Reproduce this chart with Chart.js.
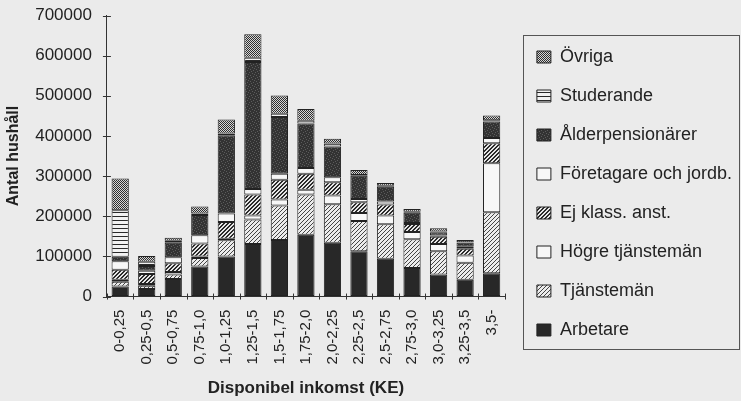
<!DOCTYPE html>
<html>
<head>
<meta charset="utf-8">
<script src="https://cdn.jsdelivr.net/npm/chart.js@4/dist/chart.umd.min.js"></script>
<style>
  html, body { margin: 0; padding: 0; background: #ebebeb; }
  #wrap { width: 741px; height: 401px; }
</style>
</head>
<body>
<div id="wrap"><canvas id="myChart" width="741" height="401"></canvas></div>
<script>
const categories = ['0-0,25', '0,25-0,5', '0,5-0,75', '0,75-1,0', '1,0-1,25', '1,25-1,5', '1,5-1,75',
  '1,75-2,0', '2,0-2,25', '2,25-2,5', '2,5-2,75', '2,75-3,0', '3,0-3,25', '3,25-3,5', '3,5-'];

// stacked bottom to top
const arbetare = [25000, 19000, 44000, 75000, 100000, 131000, 141000, 154000, 134000, 113000, 94000, 71000, 55000, 42000, 58000];
const tjansteman = [12000, 8000, 11000, 21000, 40000, 61000, 86000, 100000, 96000, 75000, 86000, 72000, 58000, 42000, 152000];
const hogreTjansteman = [5000, 4000, 6000, 4000, 4000, 10000, 15000, 12000, 22000, 20000, 22000, 18000, 18000, 18000, 122000];
const ejKlass = [25000, 25000, 22000, 32000, 42000, 52000, 49000, 40000, 33000, 27000, 27000, 20000, 18000, 17000, 50000];
const foretagare = [21000, 8000, 15000, 21000, 21000, 14000, 15000, 14000, 12000, 8000, 7500, 2500, 3000, 5000, 13000];
const alderpens = [11000, 12000, 36000, 50000, 195000, 316000, 141000, 111000, 77000, 58000, 37000, 25000, 8000, 10000, 41000];
const studerande = [116000, 11000, 5000, 4000, 4000, 11000, 8000, 7000, 7000, 2000, 2500, 2500, 2000, 1000, 3000];
const ovriga = [79000, 14000, 7500, 17000, 35000, 58000, 46000, 29000, 12000, 12000, 7000, 7000, 8000, 6000, 12000];

const yTicks = [0, 100000, 200000, 300000, 400000, 500000, 600000, 700000];

const FONT = '"Liberation Sans", Arial, Helvetica, sans-serif';
const INK = '#222222';

function makePattern(size, draw) {
  const c = document.createElement('canvas');
  c.width = size; c.height = size;
  const g = c.getContext('2d');
  draw(g, size);
  return g.createPattern(c, 'repeat');
}

const fills = {
  arbetare: '#282828',
  tjansteman: makePattern(4, (g, s) => {
    g.fillStyle = '#ececec'; g.fillRect(0, 0, s, s);
    g.fillStyle = '#444444';
    for (let i = 0; i < s; i++) g.fillRect(i, s - 1 - i, 1, 1);
  }),
  hogre: '#f7f7f7',
  ejKlass: makePattern(4, (g, s) => {
    g.fillStyle = '#e6e6e6'; g.fillRect(0, 0, s, s);
    g.fillStyle = '#2a2a2a';
    for (let i = 0; i < s; i++) { g.fillRect(i, s - 1 - i, 1, 1); g.fillRect(i, (2 * s - 2 - i) % s, 1, 1); }
  }),
  foretagare: '#f7f7f7',
  alderpens: makePattern(6, (g, s) => {
    g.fillStyle = '#333333'; g.fillRect(0, 0, s, s);
    g.fillStyle = '#5c5c5c';
    [[0, 1], [3, 0], [4, 3], [1, 4], [5, 5], [2, 2]].forEach(([a, b]) => g.fillRect(a, b, 1, 1));
  }),
  studerande: makePattern(4, (g, s) => {
    g.fillStyle = '#f2f2f2'; g.fillRect(0, 0, s, s);
    g.fillStyle = '#2a2a2a'; g.fillRect(0, 0, s, 1);
  }),
  ovriga: makePattern(2, (g, s) => {
    g.fillStyle = '#d6d6d6'; g.fillRect(0, 0, s, s);
    g.fillStyle = '#2e2e2e'; g.fillRect(0, 0, 1, 1); g.fillRect(1, 1, 1, 1);
  })
};

function series(label, data, fill) {
  return {
    label: label,
    data: data,
    backgroundColor: fill,
    borderColor: INK,
    borderWidth: 1,
    borderSkipped: false
  };
}

// nudge the legend a bit to the right without touching the plot area
const legendShift = {
  id: 'legendShift',
  afterLayout(chart) {
    chart.legend.left += 11;
    chart.legend.right += 11;
  }
};

const frame = {
  id: 'frame',
  afterDraw(chart) {
    const { ctx, scales: { x, y }, legend } = chart;
    ctx.save();
    ctx.strokeStyle = '#333';
    ctx.lineWidth = 1;
    ctx.beginPath();
    yTicks.forEach(v => {
      const py = Math.round(y.getPixelForValue(v)) + 0.5;
      ctx.moveTo(x.left - 4, py);
      ctx.lineTo(x.left + 4, py);
    });
    for (let i = 0; i <= categories.length; i++) {
      const px = Math.round(x.getPixelForValue(i - 0.5)) + 0.5;
      ctx.moveTo(px, y.bottom + 3);
      ctx.lineTo(px, y.bottom - 3);
    }
    ctx.stroke();

    const boxes = legend.legendHitBoxes;
    if (boxes && boxes.length) {
      const first = boxes[0];
      const last = boxes[boxes.length - 1];
      const left = Math.round(first.left - 14) + 0.5;
      const top = Math.round(first.top - 13) + 0.5;
      const bottom = Math.round(last.top + last.height + 10) + 0.5;
      ctx.strokeStyle = '#555';
      ctx.strokeRect(left, top, chart.width - 1.5 - left, bottom - top);
    }
    ctx.restore();
  }
};

new Chart('myChart', {
  type: 'bar',
  data: {
    labels: categories,
    datasets: [
      series('Arbetare', arbetare, fills.arbetare),
      series('Tjänstemän', tjansteman, fills.tjansteman),
      series('Högre tjänstemän', hogreTjansteman, fills.hogre),
      series('Ej klass. anst.', ejKlass, fills.ejKlass),
      series('Företagare och jordb.', foretagare, fills.foretagare),
      series('Ålderpensionärer', alderpens, fills.alderpens),
      series('Studerande', studerande, fills.studerande),
      series('Övriga', ovriga, fills.ovriga)
    ]
  },
  options: {
    responsive: false,
    animation: false,
    layout: { padding: { left: 4, top: 4, right: 10, bottom: 2 } },
    datasets: {
      bar: { categoryPercentage: 1, barPercentage: 0.65 }
    },
    plugins: {
      tooltip: { enabled: false },
      legend: {
        position: 'right',
        align: 'start',
        reverse: true,
        maxWidth: 280,
        // empty title used only as top spacing
        title: { display: true, text: '', padding: { top: 5.5, bottom: 5.5 }, font: { size: 10 } },
        labels: {
          color: INK,
          boxWidth: 14,
          boxHeight: 12,
          padding: 21,
          font: { family: FONT, size: 18 }
        }
      }
    },
    scales: {
      x: {
        stacked: true,
        border: { color: '#333', width: 1 },
        grid: { drawOnChartArea: false, tickLength: 4, tickColor: 'rgba(0,0,0,0)', offset: true },
        ticks: {
          color: INK,
          minRotation: 90,
          maxRotation: 90,
          autoSkip: false,
          padding: 9,
          font: { family: FONT, size: 15 }
        },
        title: {
          display: true,
          text: 'Disponibel inkomst (KE)',
          color: INK,
          padding: { top: 5, bottom: 0 },
          font: { family: FONT, size: 17, weight: 'bold' }
        }
      },
      y: {
        stacked: true,
        min: 0,
        max: 700000,
        border: { color: '#333', width: 1 },
        grid: { drawOnChartArea: false, tickLength: 8, tickColor: 'rgba(0,0,0,0)' },
        ticks: {
          stepSize: 100000,
          color: INK,
          padding: 7,
          font: { family: FONT, size: 17, lineHeight: 1 },
          callback: v => String(v)
        },
        title: {
          display: true,
          text: 'Antal hushåll',
          color: INK,
          padding: { top: 0, bottom: 5 },
          font: { family: FONT, size: 16, weight: 'bold' }
        }
      }
    }
  },
  plugins: [legendShift, frame]
});
</script>
</body>
</html>
